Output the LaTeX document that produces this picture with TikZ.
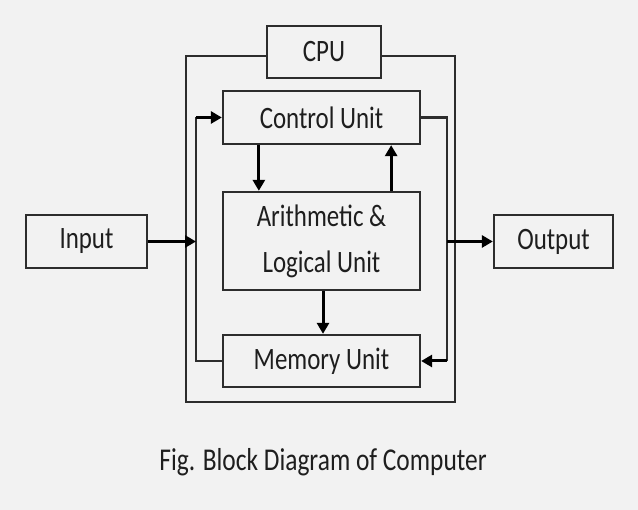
\documentclass[tikz,border=0pt]{standalone}
\usepackage{fontspec}
\setmainfont{Carlito}
\usetikzlibrary{arrows.meta}
\definecolor{bg}{RGB}{242,242,242}
\definecolor{ln}{RGB}{45,45,45}
\definecolor{tx}{RGB}{30,30,30}
\newcommand{\tall}[1]{\scalebox{1}[1.25]{#1}}
\begin{document}
\begin{tikzpicture}[x=1bp,y=1bp,
  blk/.style={draw=ln, line width=2.3bp, fill=bg, inner sep=0pt, text=tx,
    font=\fontsize{25}{29}\selectfont, align=center},
  arr/.style={line width=3bp, draw=black, -{Triangle[length=11bp,width=12bp]}},
  wire/.style={line width=2.3bp, draw=ln}]
\fill[bg] (0,0) rectangle (638,510);
\useasboundingbox (0,0) rectangle (638,510);
% outer CPU frame
\draw[wire] (186,108) rectangle (455,454);
\node[blk, minimum width=114bp, minimum height=52bp] (cpu) at (324,458) {\tall{CPU}};
\node[blk, minimum width=197bp, minimum height=53bp] (cu) at (321.5,392.5) {\raisebox{-2bp}{\tall{Control Unit}}};
\node[blk, minimum width=197bp, minimum height=98bp] (alu) at (321.5,269) {\tall{Arithmetic \&}\\[17bp]\tall{Logical Unit}};
\node[blk, minimum width=197bp, minimum height=52bp] (mem) at (321.5,149) {\raisebox{-4bp}{\tall{Memory Unit}}};
\node[blk, minimum width=121bp, minimum height=53bp] (in) at (86.5,268.5) {\tall{Input}};
\node[blk, minimum width=119bp, minimum height=53bp] (out) at (553.5,268.5) {\tall{Output}};
\coordinate (lin) at (196,268.5);
\coordinate (rout) at (447,268.5);
% loops
\draw[wire] (mem.west) -- (lin |- mem.west) -- (lin |- cu.west);
\draw[arr] (lin |- cu.west) -- (cu.west);
\draw[wire] (cu.east) -- (rout |- cu.east) -- (rout |- mem.east);
\draw[arr] (rout |- mem.east) -- (mem.east);
% vertical arrows
\draw[arr] ([xshift=37bp]cu.south west) -- ([xshift=37bp]alu.north west);
\draw[arr] ([xshift=-30bp]alu.north east) -- ([xshift=-30bp]cu.south east);
\draw[arr] ([xshift=1.5bp]alu.south) -- ([xshift=1.5bp]mem.north);
% input/output
\draw[arr] (in.east) -- (lin);
\draw[arr] (rout) -- (out.west);
\node[text=tx, font=\fontsize{25.5}{29}\selectfont] (cap) at (323,48) {\tall{Fig. Block Diagram of Computer}};
\end{tikzpicture}
\end{document}
